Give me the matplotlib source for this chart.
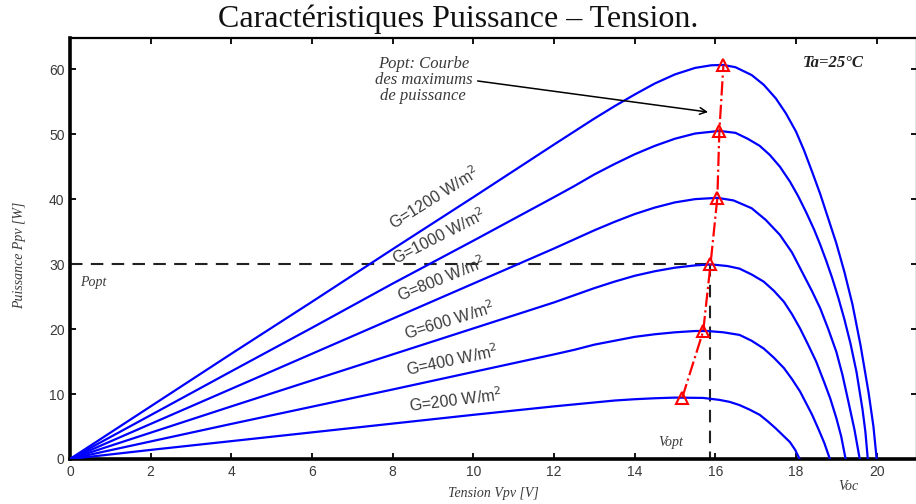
import matplotlib
matplotlib.use("Agg")
import matplotlib.pyplot as plt

# courbes P(V), une par eclairement
v_1200 = [0, 2, 4, 6, 8, 10, 12, 12.5, 13, 13.5, 14, 14.5, 15, 15.5, 15.9, 16.2, 16.5, 16.9, 17.2, 17.5,
          17.75, 18.0, 18.2, 18.4, 18.6, 18.8, 19.0, 19.2, 19.4, 19.6, 19.8, 19.92, 20.0]
p_1200 = [0, 8.1, 16.2, 24.2, 32.3, 40.3, 48.4, 50.4, 52.4, 54.3, 56.1, 57.8, 59.2, 60.2, 60.6, 60.65, 60.3, 59.1, 57.6, 55.5,
          53.2, 50.4, 47.5, 44.2, 40.8, 37.0, 33.2, 28.8, 23.8, 17.5, 10.2, 5.0, 0]

v_1000 = [0, 2, 4, 6, 8, 10, 12, 12.5, 13, 13.5, 14, 14.5, 15, 15.5, 16.1, 16.5, 16.8, 17.1, 17.35, 17.6, 17.85,
          18.05, 18.25, 18.45, 18.6, 18.75, 18.9, 19.05, 19.2, 19.35, 19.5, 19.65, 19.72, 19.78]
p_1000 = [0, 6.75, 13.5, 20.2, 27.0, 33.6, 40.3, 42.0, 43.8, 45.4, 46.9, 48.2, 49.3, 50.1, 50.5, 50.2, 49.3, 48.2, 46.8, 45.0, 42.7,
          40.5, 38.0, 35.3, 33.0, 30.5, 27.8, 24.8, 21.5, 17.8, 13.4, 7.6, 4.2, 0]

v_800 = [0, 2, 4, 6, 8, 10, 12, 12.5, 13, 13.5, 14, 14.5, 15, 15.5, 16.05, 16.45, 16.9, 17.25, 17.6, 17.9,
         18.15, 18.4, 18.6, 18.8, 19.0, 19.15, 19.3, 19.45, 19.58]
p_800 = [0, 5.4, 10.8, 16.2, 21.6, 27.0, 32.4, 33.8, 35.2, 36.5, 37.7, 38.7, 39.5, 40.0, 40.2, 39.8, 38.6, 36.8, 34.5, 31.8,
         28.8, 25.8, 23.2, 20.0, 16.5, 13.0, 8.8, 4.5, 0]

v_600 = [0, 2, 4, 6, 8, 10, 12, 12.5, 13, 13.5, 14, 14.5, 15, 15.5, 15.9, 16.3, 16.6, 16.9, 17.2, 17.45, 17.7,
         17.9, 18.1, 18.3, 18.5, 18.7, 18.85, 19.0, 19.12, 19.23]
p_600 = [0, 4.05, 8.1, 12.1, 16.1, 20.1, 24.1, 25.2, 26.3, 27.3, 28.2, 28.9, 29.45, 29.8, 29.95, 29.7, 29.3, 28.4, 27.3, 25.9, 24.2,
         22.3, 20.1, 17.6, 15.0, 11.8, 9.3, 6.3, 3.5, 0]

v_400 = [0, 2, 4, 6, 8, 10, 12, 12.5, 13, 13.5, 14, 14.5, 15, 15.5, 15.8, 16.2, 16.6, 16.9, 17.2, 17.45, 17.7, 17.9,
         18.1, 18.25, 18.4, 18.55, 18.7, 18.84]
p_400 = [0, 2.7, 5.4, 8.05, 10.7, 13.4, 16.1, 16.8, 17.6, 18.2, 18.8, 19.2, 19.5, 19.7, 19.7, 19.5, 19.1, 18.2, 17.0, 15.6, 14.0, 12.3,
         10.4, 8.6, 6.8, 4.7, 2.5, 0]

v_200 = [0, 2, 4, 6, 8, 10, 12, 12.5, 13, 13.5, 14, 14.5, 15, 15.7, 16.1, 16.35, 16.6, 16.85, 17.1, 17.3,
         17.5, 17.7, 17.85, 17.98, 18.09]
p_200 = [0, 1.4, 2.75, 4.1, 5.45, 6.8, 8.1, 8.4, 8.7, 9.0, 9.2, 9.35, 9.45, 9.4, 9.1, 8.8, 8.3, 7.6, 6.8, 5.8,
         4.7, 3.5, 2.6, 1.4, 0]

# points de puissance maximale
v_mpp = [15.18, 15.70, 15.88, 16.05, 16.10, 16.20]
p_mpp = [9.45, 19.7, 29.95, 40.2, 50.5, 60.6]

v_opt = 15.88
p_opt = 30

labels = ['G=1200 W/m$^2$', 'G=1000 W/m$^2$', 'G=800 W/m$^2$',
          'G=600 W/m$^2$', 'G=400 W/m$^2$', 'G=200 W/m$^2$']
label_x = [9.02, 9.15, 9.2, 9.4, 9.47, 9.55]
label_y = [40.2, 34.3, 27.8, 21.4, 15.2, 9.1]
label_rot = [32, 27, 22, 17, 12, 7]

serif = 'Liberation Serif'
sans = 'Liberation Sans'
grey = '#3a3a3a'

fig = plt.figure(figsize=(9.16, 5.04), dpi=100)
ax = fig.add_axes([70/916, 45/504, 847/916, 421/504])

curves = [(v_1200, p_1200), (v_1000, p_1000), (v_800, p_800),
          (v_600, p_600), (v_400, p_400), (v_200, p_200)]
for v, p in curves:
    ax.plot(v, p, color='#0000ff', lw=1.6, zorder=3)

# droites Popt / Vopt en pointilles
ax.plot([0, v_opt], [p_opt, p_opt], color='#222222', lw=1.5, dashes=(6, 4), zorder=2)
ax.plot([v_opt, v_opt], [p_opt, 0], color='#222222', lw=1.5, dashes=(6, 4), zorder=2)

ax.plot(v_mpp, p_mpp, color='red', ls='-.', lw=1.6, marker='^', ms=9,
        mfc='none', mec='red', mew=1.5, zorder=4)

for lab, x, y, r in zip(labels, label_x, label_y, label_rot):
    ax.text(x, y, lab, rotation=r, ha='center', va='center', fontsize=11.5,
            family=sans, color=grey, rotation_mode='anchor')

ax.text(0.25, 27.2, 'Popt', fontsize=10, family=serif, style='italic',
        color=grey, va='center')
ax.text(14.9, 2.5, 'Vopt', fontsize=10, family=serif, style='italic',
        color=grey, ha='center', va='center')
ax.text(19.3, -4.3, 'Voc', fontsize=10, family=serif, style='italic',
        color=grey, ha='center', va='center', clip_on=False)
ax.text(18.93, 60.9, 'Ta=25°C', fontsize=12, family=serif, style='italic',
        weight='bold', color='#222222', ha='center', va='center')

ax.annotate('Popt: Courbe\ndes maximums\nde puissance', xy=(15.82, 53.4),
            xytext=(8.76, 58.3), ha='center', va='center', fontsize=12,
            family=serif, style='italic', color=grey, linespacing=1.0,
            arrowprops=dict(arrowstyle='->', color='black', lw=1.1,
                            shrinkA=2, shrinkB=0,
                            relpos=(1.0, 0.5)))

ax.set_xlim(0, 21)
ax.set_ylim(0, 64.8)
ax.set_xticks(range(0, 21, 2))
ax.set_yticks(range(0, 61, 10))
ax.tick_params(direction='in', top=True, right=True, length=4, width=1.3,
               labelsize=10, labelcolor=grey, pad=4)
for t in ax.get_xticklabels() + ax.get_yticklabels():
    t.set_family(sans)
ax.spines['left'].set_linewidth(2.6)
ax.spines['bottom'].set_linewidth(2.6)
ax.spines['top'].set_linewidth(1.6)
ax.spines['right'].set_linewidth(1.6)

ax.set_xlabel('Tension Vpv [V]', fontsize=10, family=serif, style='italic',
              color=grey, labelpad=6)
fig.text(20/916, 1 - 255/504, 'Puissance Ppv [W]', rotation=90, fontsize=10,
         family=serif, style='italic', color=grey, ha='center', va='center')

fig.text(0.5, 1 - 19/504, 'Caractéristiques Puissance – Tension.', fontsize=23,
         family=serif, color='#111111', ha='center', va='center')

fig.savefig('out.png', dpi=100)
